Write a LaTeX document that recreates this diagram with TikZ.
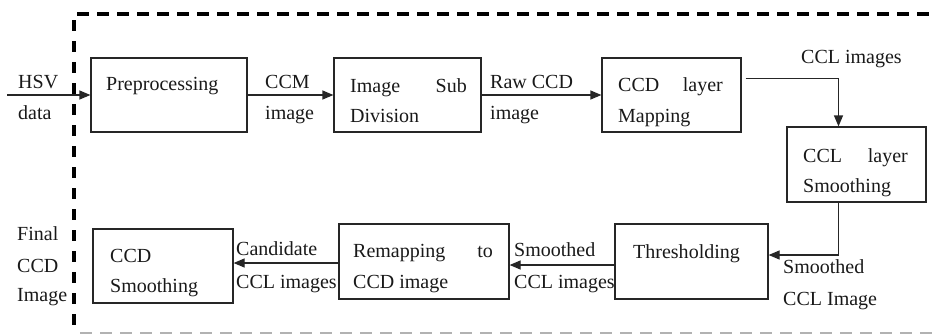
\documentclass[tikz,border=0pt]{standalone}
\usepackage{fontspec}
\setmainfont{Liberation Serif}
\usetikzlibrary{arrows.meta,calc}
\begin{document}
\begin{tikzpicture}[x=1pt,y=-1pt,
  box/.style={draw=black!85,line width=1.2pt,minimum height=74pt,inner sep=0pt},
  txt/.style={inner sep=0pt,anchor=base west,font=\fontsize{20}{23}\selectfont,text=black!90},
  txtr/.style={txt,anchor=base east},
  arr/.style={draw=black!85,line width=1.2pt,-{Triangle[length=11pt,width=9pt]}},
  frame/.style={line width=3.6pt,black}]
\useasboundingbox (0,0) rectangle (936,335);
% dashed frame
\coordinate (ftl) at (77,14);
\coordinate (ftr) at (936,14);
\coordinate (flt) at (74,20);
\coordinate (flb) at (74,335);
\coordinate (fbl) at (80,333);
\coordinate (fbr) at (936,333);
\draw[frame,dash pattern=on 12pt off 8pt] (ftl) -- (ftr);
\draw[frame,line width=3.2pt,dash pattern=on 11pt off 10pt] (flt) -- (flb);
\draw[line width=1.5pt,black!30,dash pattern=on 12pt off 8pt] (fbl) -- (fbr);
% boxes
\node[box,minimum width=156pt] (pre) at (169,95) {};
\node[box,minimum width=147pt] (sub) at (407.5,95) {};
\node[box,minimum width=139pt] (map) at (671.5,95) {};
\node[box,minimum width=139pt,minimum height=75pt] (cls) at (856.5,164.5) {};
\node[box,minimum width=153pt,minimum height=75pt] (thr) at (691.5,261.5) {};
\node[box,minimum width=170pt,minimum height=75pt] (rem) at (424,261.5) {};
\node[box,minimum width=140pt] (ccds) at (163,266) {};
% box texts
\node[txt] (pre1) at (106,90) {Preprocessing};
\node[txt] (sub1a) at (350,92) {Image};
\node[txtr] (sub1b) at (467,92) {Sub};
\node[txt] (sub2) at (350,122) {Division};
\node[txt] (map1a) at (618,91) {CCD};
\node[txtr] (map1b) at (723,91) {layer};
\node[txt] (map2) at (618,122) {Mapping};
\node[txt] (cls1a) at (803,162) {CCL};
\node[txtr] (cls1b) at (908,162) {layer};
\node[txt] (cls2) at (803,192) {Smoothing};
\node[txt] (thr1) at (633,258) {Thresholding};
\node[txt] (rem1a) at (353,257) {Remapping};
\node[txtr] (rem1b) at (493,257) {to};
\node[txt] (rem2) at (353,288) {CCD image};
\node[txt] (ccd1) at (110,262) {CCD};
\node[txt] (ccd2) at (110,292) {Smoothing};
% labels
\node[txt] (hsv1) at (18,88) {HSV};
\node[txt] (hsv2) at (18,119) {data};
\node[txt] (ccm1) at (265,88) {CCM};
\node[txt] (ccm2) at (265,119) {image};
\node[txt] (raw1) at (490,88) {Raw CCD};
\node[txt] (raw2) at (490,119) {image};
\node[txt] (ccl) at (801,63) {CCL images};
\node[txt] (sm1) at (783,273) {Smoothed};
\node[txt] (sm2) at (783,305) {CCL Image};
\node[txt] (smd1) at (514,256) {Smoothed};
\node[txt] (smd2) at (514,288) {CCL images};
\node[txt] (cand1) at (236,255) {Candidate};
\node[txt] (cand2) at (236,288) {CCL images};
\node[txt] (fin1) at (17,240) {Final};
\node[txt] (fin2) at (17,272) {CCD};
\node[txt] (fin3) at (17,301) {Image};
% connectors
\coordinate (in) at (7,95);
\coordinate (remout) at ([yshift=-1.5pt]rem.west);
\draw[arr] (in) -- (pre.west);
\draw[arr] (pre.east) -- (sub.west);
\draw[arr] (sub.east) -- (map.west);
\draw[arr] ([xshift=4pt,yshift=-21pt]map.north east) -| ([xshift=-18pt]cls.north);
\draw[arr] ([xshift=-18pt]cls.south) |- ([yshift=6.5pt]thr.east);
\draw[arr] ([yshift=-3.5pt]thr.west) -- ([yshift=-3.5pt]rem.east);
\draw[arr] (remout) -- (ccds.east |- remout);
\end{tikzpicture}
\end{document}
